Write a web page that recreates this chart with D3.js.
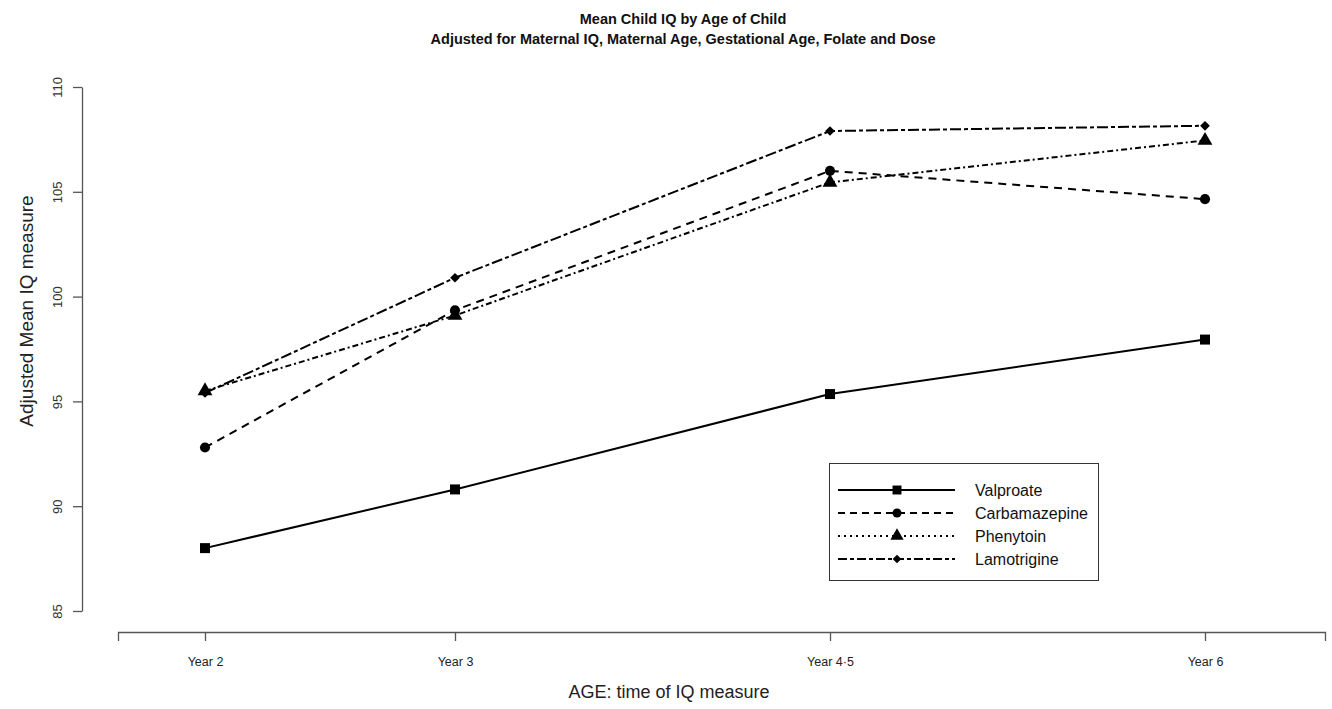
<!DOCTYPE html>
<html><head><meta charset="utf-8">
<script src="https://cdn.jsdelivr.net/npm/d3@7"></script>
<style>body{margin:0;background:#fff}svg{display:block}text{font-family:"Liberation Sans",Arial,sans-serif}</style>
</head><body>
<svg id="c" width="1332" height="709"></svg>
<script>
const titleLines = ["Mean Child IQ by Age of Child", "Adjusted for Maternal IQ, Maternal Age, Gestational Age, Folate and Dose"];
const xTitle = "AGE: time of IQ measure";
const yTitle = "Adjusted Mean IQ measure";
const ages = [2, 3, 4.5, 6];
const ageLabels = ["Year 2", "Year 3", "Year 4\u00b75", "Year 6"];
const yTicks = [85, 90, 95, 100, 105, 110];
const seriesNames = ["Valproate", "Carbamazepine", "Phenytoin", "Lamotrigine"];
const valproate = [88.0, 90.8, 95.35, 97.95];
const carbamazepine = [92.8, 99.35, 106.0, 104.65];
const phenytoin = [95.5, 99.1, 105.45, 107.45];
const lamotrigine = [95.4, 100.9, 107.9, 108.15];
const seriesValues = [valproate, carbamazepine, phenytoin, lamotrigine];
const lineDash = [null, "8,6", "6,3,2,3", "11,3,4,3"];
const legendDash = [null, "7,5", "2,4", "9,3,4,3"];
const markers = [d3.symbolSquare, d3.symbolCircle, d3.symbolTriangle, d3.symbolDiamond2];
const markerSize = [100, 80, 95, 60];

const svg = d3.select("#c");
const x = d3.scaleLinear().domain([1.652, 6.48]).range([118, 1325]);
const y = d3.scaleLinear().domain([85, 110]).range([611, 87]);

// title
svg.selectAll("text.title").data(titleLines).join("text")
  .attr("class", "title")
  .attr("x", 683).attr("y", (d, i) => 24 + i * 20)
  .attr("text-anchor", "middle").attr("font-weight", "bold").attr("font-size", 14.5)
  .attr("fill", "#111").text(d => d);

// y axis
const yAxis = svg.append("g").attr("transform", "translate(82,0)")
  .call(d3.axisLeft(y).tickValues(yTicks).tickSize(9).tickSizeOuter(0));
yAxis.select(".domain").attr("stroke", "#555").attr("stroke-width", 1.3);
yAxis.selectAll(".tick line").attr("stroke", "#555").attr("stroke-width", 1.3);
yAxis.selectAll(".tick text").attr("font-size", 13).attr("fill", "#333")
  .attr("text-anchor", "middle")
  .attr("transform", "translate(-25,0) rotate(-90)")
  .attr("x", 0).attr("y", 0).attr("dy", "0.35em");

svg.append("text").attr("transform", "translate(33,311) rotate(-90)")
  .attr("text-anchor", "middle").attr("font-size", 19).attr("fill", "#222").text(yTitle);

// x axis
const xAxis = svg.append("g").attr("transform", "translate(0,632)")
  .call(d3.axisBottom(x).tickValues(ages).tickFormat((d, i) => ageLabels[i]).tickSize(9).tickSizeOuter(9).tickPadding(16));
xAxis.select(".domain").attr("stroke", "#555").attr("stroke-width", 1.3);
xAxis.selectAll(".tick line").attr("stroke", "#555").attr("stroke-width", 1.3);
xAxis.selectAll(".tick text").attr("font-size", 12.5).attr("fill", "#222");

svg.append("text").attr("x", 669).attr("y", 698)
  .attr("text-anchor", "middle").attr("font-size", 18).attr("fill", "#222").text(xTitle);

// lines
const line = d3.line().x((d, i) => x(ages[i])).y(d => y(d));
seriesValues.forEach((vals, s) => {
  svg.append("path").datum(vals).attr("d", line)
    .attr("fill", "none").attr("stroke", "#000").attr("stroke-width", 2)
    .attr("stroke-dasharray", lineDash[s]);
  svg.selectAll(null).data(vals).join("path")
    .attr("transform", (d, i) => `translate(${x(ages[i])},${y(d)})`)
    .attr("d", d3.symbol().type(markers[s]).size(markerSize[s])).attr("fill", "#000");
});

// legend
const lg = svg.append("g");
lg.append("rect").attr("x", 829.5).attr("y", 463.5).attr("width", 269).attr("height", 117)
  .attr("fill", "#fff").attr("stroke", "#333").attr("stroke-width", 1);
seriesNames.forEach((name, s) => {
  const yy = 490 + s * 23;
  lg.append("line").attr("x1", 838).attr("x2", 955).attr("y1", yy).attr("y2", yy)
    .attr("stroke", "#000").attr("stroke-width", 2).attr("stroke-dasharray", legendDash[s]);
  lg.append("path").attr("transform", `translate(897,${yy})`)
    .attr("d", d3.symbol().type(markers[s]).size(markerSize[s] * 0.8)).attr("fill", "#000");
  lg.append("text").attr("x", 975).attr("y", yy).attr("dy", "0.36em")
    .attr("font-size", 16).attr("fill", "#111").text(name);
});
</script>
</body></html>
